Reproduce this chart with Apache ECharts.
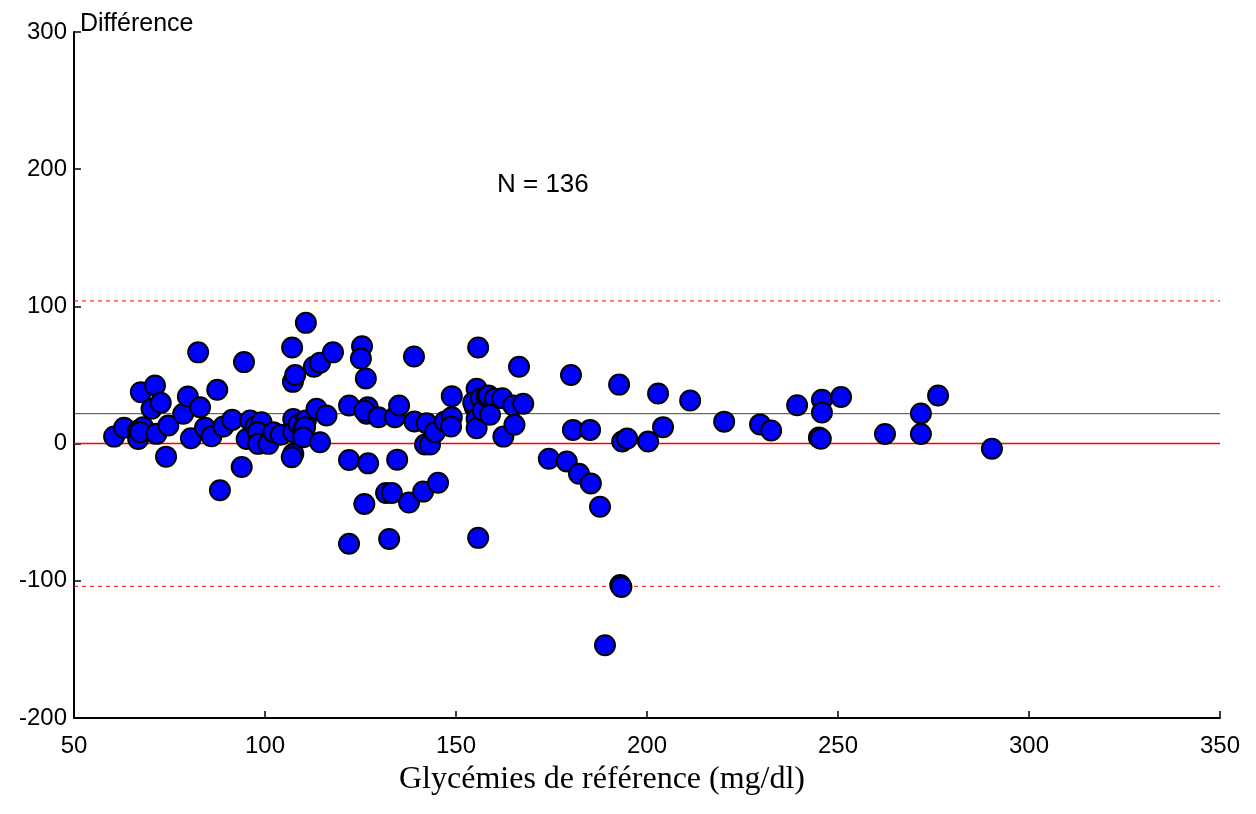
<!DOCTYPE html>
<html>
<head>
<meta charset="utf-8">
<script src="https://cdn.jsdelivr.net/npm/echarts@6/dist/echarts.min.js"></script>
<style>
  html, body { margin: 0; padding: 0; background: #fff; }
  #chart { width: 1256px; height: 814px; }
</style>
</head>
<body>
<div id="chart"></div>
<script>
// reference glycaemia (mg/dl) vs difference
var points = [
    [60.5, 5.1], [63.1, 11.5], [66.8, 9.5], [68.1, 11.9], [66.8, 3.4], [67.3, 8.3],
    [67.5, 37.5], [71.2, 42.4], [70.3, 25.4], [72.7, 29.7], [71.6, 7.1], [74.1, -9.5],
    [74.7, 13.2], [78.6, 21.7], [79.8, 34.4], [80.6, 3.9], [82.5, 66.5], [83, 26.5],
    [84.3, 11.5], [86, 5.3], [87.5, 39.2], [88.2, -34], [89.1, 12.4], [91.4, 17.3],
    [93.9, -17], [94.5, 59.4], [95.2, 3.4], [96.1, 16.8], [97.5, 12.5], [99.1, 15.6],
    [98.1, 8.3], [98.2, -0.2], [100.9, -0.2], [102.2, 8.3], [104.1, 6.4],
    [107.1, 70], [107.3, 45], [107.9, 50], [107.4, 18], [107.4, 8.3], [107.4, -7.5],
    [107, -10], [108.8, 14], [110.7, 88], [110.7, 16.8], [110, 10.7], [110.5, 12],
    [110, 4.6], [112.8, 56], [114.4, 59], [113.5, 25.4], [114.4, 1], [116.1, 20.5],
    [117.8, 66.5], [122, 27.8], [122, -11.9], [122, -73], [125.4, 71], [125.1, 62],
    [126.4, 47.5], [126.9, 26.5], [126.6, 21.7], [126, 24], [126, -44], [127, -14.4],
    [129.7, 19.2], [131.7, -36], [133.2, -36], [132.5, -69.5], [134, 19.2], [135.1, 27.8],
    [134.6, -11.7], [137.7, -43], [139, 63.5], [139.1, 16.1], [141.4, -35], [141.9, -0.7],
    [143.2, -0.7], [142.3, 14.8], [144.5, 8.3], [145.3, -28.5], [147.1, 16.1], [148.9, 19.2],
    [148.7, 12.4], [148.9, 34.6], [155.4, 40], [155.8, 70], [155.8, -68.7], [154.9, 26.5],
    [154.5, 30], [155.4, 18], [155.4, 11.2], [156.5, 33.1], [157, 24], [158, 34.5],
    [158.5, 35], [160.2, 32.7], [158.9, 21], [162.1, 33.1], [162.4, 5.1], [165, 27.8],
    [165.3, 13.7], [166.5, 56], [167.6, 29], [174.3, -11], [179, -13], [180.1, 50],
    [180.6, 10], [182.2, -22], [185.1, 10], [185.3, -29], [187.7, -46], [189, -147],
    [192.7, 43], [193, -103], [193.3, -104.5], [193.5, 1.5], [194.8, 3.7], [200.3, 1.5],
    [202.9, 36.5], [204.2, 12], [211.3, 31.4], [220.2, 16], [229.6, 14], [232.5, 9.5],
    [239.3, 28], [245, 4.4], [245.5, 3.5], [245.8, 32], [245.8, 22.7], [250.8, 34],
    [262.3, 7], [271.7, 22], [271.7, 7], [276.2, 35], [290.3, -3.7]
];
var meanDiff = 21.8;
var upperLimit = 104;
var lowerLimit = -104;
var xTicks = [50, 350, 50];   // min, max, step
var yTicks = [-200, 300, 100];

var sans = 'Liberation Sans, Arial, sans-serif';
var chart = echarts.init(document.getElementById('chart'));

// horizontal reference line across the whole x range
function refLine(value, color, width, type) {
    return {
        type: 'line',
        data: [[xTicks[0], value], [xTicks[1], value]],
        z: 1,
        silent: true,
        symbol: 'none',
        lineStyle: { color: color, width: width, type: type },
        emphasis: { disabled: true }
    };
}

var option = {
    animation: false,
    backgroundColor: '#fff',
    grid: {
        left: 74,
        right: 36,
        top: 32,
        bottom: 96
    },
    xAxis: {
        type: 'value',
        min: xTicks[0],
        max: xTicks[1],
        interval: xTicks[2],
        axisLine: { onZero: false, lineStyle: { color: '#000', width: 2 } },
        axisTick: { inside: true, length: 7, lineStyle: { color: '#000', width: 1.5 } },
        axisLabel: { color: '#000', fontSize: 24, fontFamily: sans, margin: 16 },
        splitLine: { show: false }
    },
    yAxis: {
        type: 'value',
        min: yTicks[0],
        max: yTicks[1],
        interval: yTicks[2],
        axisLine: { show: true, onZero: false, lineStyle: { color: '#000', width: 2 } },
        axisTick: { show: true, inside: true, length: 7, lineStyle: { color: '#000', width: 1.5 } },
        axisLabel: { color: '#000', fontSize: 24, fontFamily: sans, margin: 7 },
        splitLine: { show: false }
    },
    graphic: [
        {
            type: 'text', left: 80, top: 12,
            style: { text: 'Différence', fill: '#000', font: '25px ' + sans }
        },
        {
            type: 'text', left: 497, top: 172,
            style: { text: 'N = 136', fill: '#000', font: '26px ' + sans }
        },
        {
            type: 'text', left: 399, top: 764,
            style: { text: 'Glycémies de référence (mg/dl)', fill: '#000', font: '32px "Liberation Serif", "Times New Roman", serif' }
        }
    ],
    series: [
        refLine(0, '#ff0000', 1.5, 'solid'),
        refLine(meanDiff, '#444444', 1, 'solid'),
        refLine(upperLimit, '#ff0000', 1, [4, 4]),
        refLine(lowerLimit, '#ff0000', 1, [4, 4]),
        {
            type: 'scatter',
            z: 3,
            data: points,
            symbol: 'circle',
            symbolSize: 20,
            itemStyle: {
                color: '#0000ff',
                borderColor: '#000',
                borderWidth: 2,
                opacity: 1
            }
        }
    ]
};

chart.setOption(option);
</script>
</body>
</html>
